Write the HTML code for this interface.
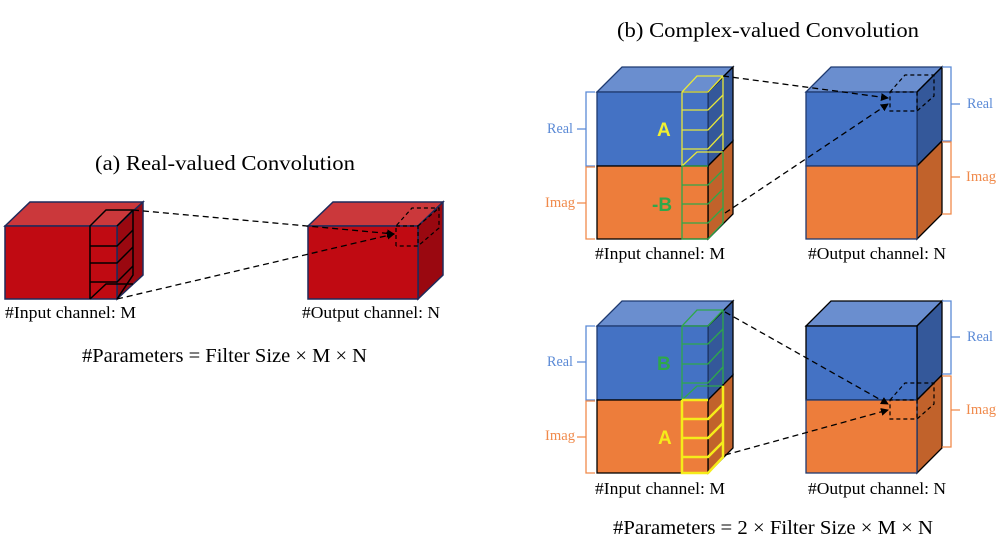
<!DOCTYPE html>
<html><head><meta charset="utf-8"><style>
html,body{margin:0;padding:0;background:#fff;width:1005px;height:556px;overflow:hidden}
svg text{font-family:"Liberation Serif",serif}
</style></head><body>
<svg width="1005" height="556" viewBox="0 0 1005 556" xmlns="http://www.w3.org/2000/svg">
<defs>
<marker id="ah" markerWidth="8" markerHeight="8" refX="7" refY="4" orient="auto" markerUnits="userSpaceOnUse">
<path d="M0,0 L8,4 L0,8 z" fill="#000"/></marker>
</defs>

<!-- ===== (a) ===== -->
<text x="95" y="170" font-size="21.5" textLength="260" lengthAdjust="spacingAndGlyphs">(a) Real-valued Convolution</text>
<g stroke="#1f2a5a" stroke-width="1.5">
<polygon points="5,226 30,202 143,202 117,226" fill="#cb383b"/>
<polygon points="117,226 143,202 143,275 117,299" fill="#9a0810"/>
<rect x="5" y="226" width="112" height="73" fill="#c00a12"/>
</g>
<g stroke="#000" stroke-width="1.5" fill="none">
<polyline points="90,299 90,226 106,210 133,210 133,275 117,299"/>
<line x1="117" y1="226" x2="133" y2="210"/>
<polyline points="90,246 117,246 133,230"/>
<polyline points="90,263 117,263 133,247"/>
<polyline points="90,282 117,282 133,266"/>
<polyline points="90,299 106,284 133,284"/>
</g>
<g stroke="#1f2a5a" stroke-width="1.5">
<polygon points="308,226 333,202 443,202 418,226" fill="#cb383b"/>
<polygon points="418,226 443,202 443,275 418,299" fill="#9a0810"/>
<rect x="308" y="226" width="110" height="73" fill="#c00a12"/>
</g>
<g stroke="#000" stroke-width="1.2" fill="none" stroke-dasharray="4,3">
<polyline points="396,246 396,226 412,208 439,208 439,228 418,246 396,246"/>
<polyline points="396,226 418,226 418,246"/>
<line x1="418" y1="226" x2="439" y2="208"/>
</g>
<g stroke="#000" stroke-width="1.3" stroke-dasharray="6,4" fill="none">
<line x1="133" y1="210" x2="394" y2="234" marker-end="url(#ah)"/>
<line x1="117" y1="299" x2="394" y2="234" marker-end="url(#ah)"/>
</g>
<text x="5" y="318" font-size="17" textLength="131" lengthAdjust="spacingAndGlyphs">#Input channel: M</text>
<text x="302" y="318" font-size="17" textLength="138" lengthAdjust="spacingAndGlyphs">#Output channel: N</text>
<text x="82" y="362" font-size="19.5" textLength="285" lengthAdjust="spacingAndGlyphs">#Parameters = Filter Size × M × N</text>

<!-- ===== (b) ===== -->
<text x="617" y="37" font-size="21.5" textLength="302" lengthAdjust="spacingAndGlyphs">(b) Complex-valued Convolution</text>

<g stroke="#000" stroke-width="1.3">
<polygon points="597,92 622,67 733,67 708,92" fill="#6a8ecf" stroke="#1f3a70"/>
<polygon points="708,92 733,67 733,141 708,166" fill="#34589a"/>
<polygon points="708,166 733,141 733,214 708,239" fill="#c1622b"/>
<rect x="597" y="92" width="111" height="74" fill="#4472c4" stroke="#1f3a70"/>
<rect x="597" y="166" width="111" height="73" fill="#ed7d3b"/>
</g>
<g stroke="#e8e83a" stroke-width="1.3" fill="none">
<polyline points="682,166 682,92 697,76 723,76 723,150"/>
<polyline points="682,92 708,92 723,76"/>
<polyline points="682,110 708,110 723,95"/>
<polyline points="682,130 708,130 723,114"/>
<polyline points="682,149 708,149 723,133"/>
<polyline points="682,166 697,152 723,152"/>
</g>
<g stroke="#2ea84a" stroke-width="1.3" fill="none">
<polyline points="682,166 682,239 708,239 723,223 723,152"/>
<line x1="682" y1="166" x2="708" y2="166"/>
<polyline points="682,185 708,185 723,170"/>
<polyline points="682,204 708,204 723,189"/>
<polyline points="682,223 708,223 723,208"/>
</g>
<text x="657" y="136" font-size="19" font-weight="bold" fill="#f0f030" style="font-family:'Liberation Sans',sans-serif">A</text>
<text x="652" y="211" font-size="19" font-weight="bold" fill="#2ea84a" style="font-family:'Liberation Sans',sans-serif">-B</text>
<path d="M595,92 L586,92 L586,166 L595,166 M586,129 L577,129" stroke="#5b8ad6" stroke-width="1.3" fill="none"/>
<path d="M595,167 L586,167 L586,239 L595,239 M586,203 L577,203" stroke="#f08a4b" stroke-width="1.3" fill="none"/>
<text x="547" y="133" font-size="15" fill="#5b8ad6" textLength="26" lengthAdjust="spacingAndGlyphs">Real</text>
<text x="545" y="207" font-size="15" fill="#f08a4b" textLength="30" lengthAdjust="spacingAndGlyphs">Imag</text>

<g stroke="#000" stroke-width="1.3">
<polygon points="806,92 831,67 942,67 917,92" fill="#6a8ecf" stroke="#1f3a70"/>
<polygon points="917,92 942,67 942,141 917,166" fill="#34589a"/>
<polygon points="917,166 942,141 942,214 917,239" fill="#c1622b"/>
<rect x="806" y="92" width="111" height="74" fill="#4472c4" stroke="#1f3a70"/>
<rect x="806" y="166" width="111" height="73" fill="#ed7d3b" stroke="#1f3a70"/>
</g>
<g stroke="#000" stroke-width="1.2" fill="none" stroke-dasharray="4,3">
<polyline points="890,92 905,75 934,75 934,96 917,111 890,111 890,92 917,92 917,111"/>
<line x1="917" y1="92" x2="934" y2="75"/>
</g>
<path d="M942,67 L951,67 L951,141 L942,141 M951,104 L960,104" stroke="#5b8ad6" stroke-width="1.3" fill="none"/>
<path d="M942,142 L951,142 L951,214 L942,214 M951,177 L960,177" stroke="#f08a4b" stroke-width="1.3" fill="none"/>
<text x="967" y="108" font-size="15" fill="#5b8ad6" textLength="26" lengthAdjust="spacingAndGlyphs">Real</text>
<text x="966" y="181" font-size="15" fill="#f08a4b" textLength="30" lengthAdjust="spacingAndGlyphs">Imag</text>
<g stroke="#000" stroke-width="1.3" stroke-dasharray="6,4" fill="none">
<line x1="723" y1="76" x2="888" y2="98" marker-end="url(#ah)"/>
<line x1="725" y1="213" x2="888" y2="104" marker-end="url(#ah)"/>
</g>
<text x="595" y="259" font-size="17" textLength="130" lengthAdjust="spacingAndGlyphs">#Input channel: M</text>
<text x="808" y="259" font-size="17" textLength="138" lengthAdjust="spacingAndGlyphs">#Output channel: N</text>

<g stroke="#000" stroke-width="1.3">
<polygon points="597,326 622,301 733,301 708,326" fill="#6a8ecf" stroke="#1f3a70"/>
<polygon points="708,326 733,301 733,375 708,400" fill="#34589a"/>
<polygon points="708,400 733,375 733,448 708,473" fill="#c1622b"/>
<rect x="597" y="326" width="111" height="74" fill="#4472c4" stroke="#1f3a70"/>
<rect x="597" y="400" width="111" height="73" fill="#ed7d3b"/>
</g>
<g stroke="#2ea84a" stroke-width="1.3" fill="none">
<polyline points="682,400 682,326 697,310 723,310 723,384"/>
<polyline points="682,326 708,326 723,310"/>
<polyline points="682,344 708,344 723,329"/>
<polyline points="682,364 708,364 723,348"/>
<polyline points="682,383 708,383 723,367"/>
<polyline points="682,400 697,386 723,386"/>
</g>
<g stroke="#f5ec1a" stroke-width="2.5" fill="none">
<polyline points="682,400 682,473 708,473 723,457 723,386"/>
<line x1="682" y1="400" x2="708" y2="400"/>
<polyline points="682,419 708,419 723,404"/>
<polyline points="682,438 708,438 723,423"/>
<polyline points="682,457 708,457 723,442"/>
</g>
<text x="657" y="370" font-size="19" font-weight="bold" fill="#2ea84a" style="font-family:'Liberation Sans',sans-serif">B</text>
<text x="658" y="444" font-size="19" font-weight="bold" fill="#f5ec1a" style="font-family:'Liberation Sans',sans-serif">A</text>
<path d="M595,326 L586,326 L586,400 L595,400 M586,362 L577,362" stroke="#5b8ad6" stroke-width="1.3" fill="none"/>
<path d="M595,401 L586,401 L586,473 L595,473 M586,437 L577,437" stroke="#f08a4b" stroke-width="1.3" fill="none"/>
<text x="547" y="366" font-size="15" fill="#5b8ad6" textLength="26" lengthAdjust="spacingAndGlyphs">Real</text>
<text x="545" y="440" font-size="15" fill="#f08a4b" textLength="30" lengthAdjust="spacingAndGlyphs">Imag</text>

<g stroke="#000" stroke-width="1.3">
<polygon points="806,326 831,301 942,301 917,326" fill="#6a8ecf"/>
<polygon points="917,326 942,301 942,375 917,400" fill="#34589a"/>
<polygon points="917,400 942,375 942,448 917,473" fill="#c1622b"/>
<rect x="806" y="326" width="111" height="74" fill="#4472c4"/>
<rect x="806" y="400" width="111" height="73" fill="#ed7d3b" stroke="#1f3a70"/>
</g>
<g stroke="#000" stroke-width="1.2" fill="none" stroke-dasharray="4,3">
<polyline points="890,400 905,383 934,383 934,404 917,419 890,419 890,400 917,400 917,419"/>
<line x1="917" y1="400" x2="934" y2="383"/>
</g>
<path d="M942,301 L951,301 L951,374 L942,374 M951,337 L960,337" stroke="#5b8ad6" stroke-width="1.3" fill="none"/>
<path d="M942,376 L951,376 L951,447 L942,447 M951,410 L960,410" stroke="#f08a4b" stroke-width="1.3" fill="none"/>
<text x="967" y="341" font-size="15" fill="#5b8ad6" textLength="26" lengthAdjust="spacingAndGlyphs">Real</text>
<text x="966" y="414" font-size="15" fill="#f08a4b" textLength="30" lengthAdjust="spacingAndGlyphs">Imag</text>
<g stroke="#000" stroke-width="1.3" stroke-dasharray="6,4" fill="none">
<line x1="725" y1="312" x2="888" y2="404" marker-end="url(#ah)"/>
<line x1="725" y1="455" x2="888" y2="410" marker-end="url(#ah)"/>
</g>
<text x="595" y="494" font-size="17" textLength="130" lengthAdjust="spacingAndGlyphs">#Input channel: M</text>
<text x="808" y="494" font-size="17" textLength="138" lengthAdjust="spacingAndGlyphs">#Output channel: N</text>
<text x="613" y="534" font-size="19.5" textLength="320" lengthAdjust="spacingAndGlyphs">#Parameters = 2 × Filter Size × M × N</text>
</svg>
</body></html>
